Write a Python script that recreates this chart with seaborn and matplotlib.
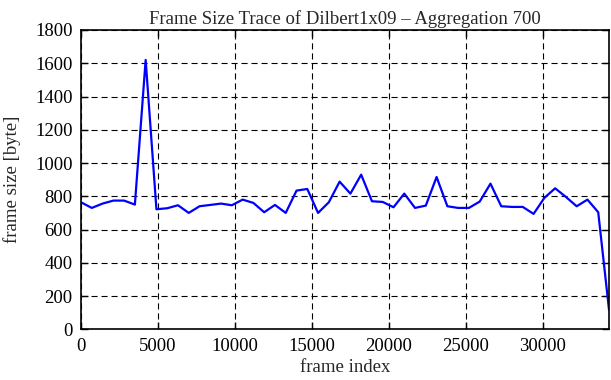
import numpy as np
import pandas as pd
import matplotlib
matplotlib.use("Agg")
import matplotlib.pyplot as plt
import seaborn as sns

# frame size trace, one value every 700 frames
frame_index = [i * 700 for i in range(50)]
frame_size = [
    764, 730, 756, 774, 774, 750, 1620, 722, 728, 746,
    700, 740, 748, 756, 746, 780, 760, 704, 748, 700,
    834, 844, 700, 764, 888, 816, 930, 770, 766, 734,
    816, 730, 744, 916, 740, 730, 730, 768, 876, 740,
    736, 736, 694, 790, 848, 796, 740, 780, 704, 118,
]
y_ticks = [0, 200, 400, 600, 800, 1000, 1200, 1400, 1600, 1800]
x_ticks = [0, 5000, 10000, 15000, 20000, 25000, 30000]

df = pd.DataFrame({"frame index": frame_index, "frame size": frame_size})

sns.set_style("ticks")
plt.rcParams["font.family"] = ["Liberation Serif", "DejaVu Serif"]

fig = plt.figure(figsize=(6.11, 3.80), dpi=100)
ax = fig.add_axes([81 / 611, 1 - 329.3 / 380, 528 / 611, 299.3 / 380])

sns.lineplot(data=df, x="frame index", y="frame size", color="#0000ff",
             linewidth=1.6, ax=ax)

ax.set_xlim(0, 34300)
ax.set_ylim(0, 1800)
ax.set_xticks(x_ticks)
ax.set_yticks(y_ticks)
ax.grid(True, color="black", linewidth=0.8, linestyle=(0, (5.5, 3.5)))
ax.tick_params(direction="in", length=5, width=1, top=True, right=True,
               labelsize=13.5, colors="black", pad=6)
for s in ax.spines.values():
    s.set_linewidth(1.2)
    s.set_color("black")

ax.set_xlabel("frame index", fontsize=13.5, labelpad=3)
ax.set_ylabel("frame size [byte]", fontsize=13.5, labelpad=10)
ax.set_title("Frame Size Trace of Dilbert1x09 \u2013 Aggregation 700", fontsize=13.5, pad=4)

fig.savefig("out.png", dpi=100)
